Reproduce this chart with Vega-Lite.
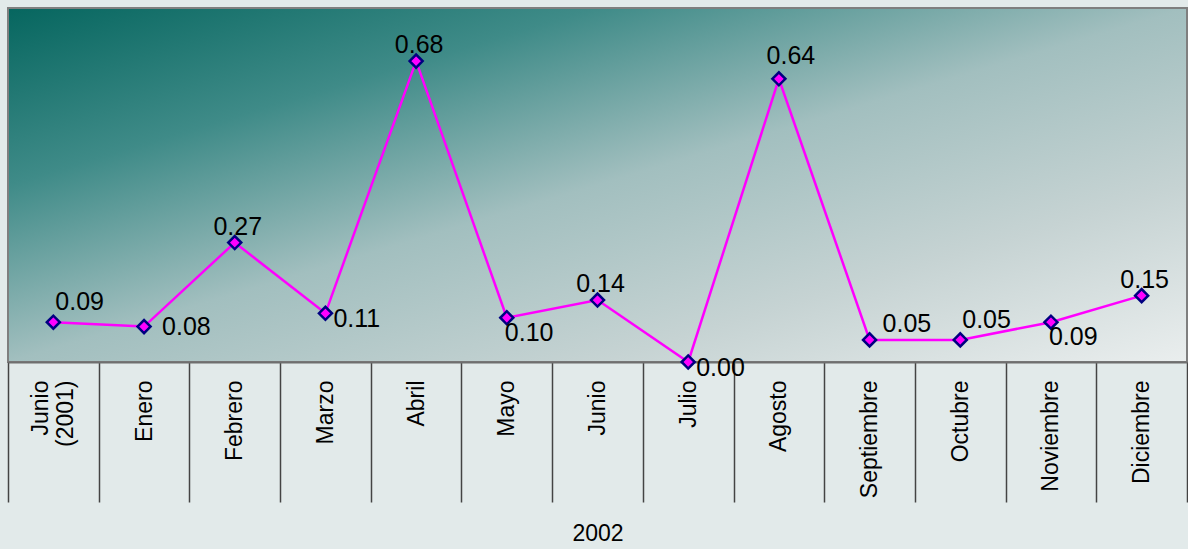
{
  "$schema": "https://vega.github.io/schema/vega-lite/v6.json",
  "width": 1179,
  "height": 354,
  "autosize": "none",
  "padding": {"left": 8, "top": 8, "right": 1, "bottom": 187},
  "background": "#e2eaea",
  "config": {
    "font": "Liberation Sans",
    "view": {
      "stroke": "#7f7f7f",
      "strokeWidth": 2,
      "fill": {
        "gradient": "linear",
        "x1": 0, "y1": 0, "x2": 1, "y2": 1,
        "stops": [
          {"offset": 0, "color": "#06665f"},
          {"offset": 0.25, "color": "#3f8b88"},
          {"offset": 0.5, "color": "#a2bfbf"},
          {"offset": 0.75, "color": "#c6d3d3"},
          {"offset": 1, "color": "#eaeeee"}
        ]
      }
    },
    "text": {"font": "Liberation Sans", "fontSize": 25, "color": "#000000"}
  },
  "data": {
    "values": [
      {"mes": "Junio (2001)", "valor": 0.09},
      {"mes": "Enero", "valor": 0.08},
      {"mes": "Febrero", "valor": 0.27},
      {"mes": "Marzo", "valor": 0.11},
      {"mes": "Abril", "valor": 0.68},
      {"mes": "Mayo", "valor": 0.10},
      {"mes": "Junio", "valor": 0.14},
      {"mes": "Julio", "valor": 0.00},
      {"mes": "Agosto", "valor": 0.64},
      {"mes": "Septiembre", "valor": 0.05},
      {"mes": "Octubre", "valor": 0.05},
      {"mes": "Noviembre", "valor": 0.09},
      {"mes": "Diciembre", "valor": 0.15}
    ]
  },
  "encoding": {
    "x": {
      "field": "mes",
      "type": "nominal",
      "sort": null,
      "scale": {"paddingInner": 0, "paddingOuter": 0},
      "axis": {
        "orient": "bottom",
        "title": "2002",
        "titleFont": "Liberation Sans",
        "titleFontSize": 23,
        "titleFontWeight": "normal",
        "titleColor": "#000000",
        "titlePadding": 20,
        "labelAngle": 270,
        "labelFont": "Liberation Sans",
        "labelFontSize": 23,
        "labelColor": "#000000",
        "labelPadding": -122,
        "labelOffset": {"condition": {"test": "datum.value == 'Junio (2001)'", "value": -13}, "value": 0},
        "labelExpr": "datum.value == 'Junio (2001)' ? ['Junio', '(2001)'] : datum.value",
        "tickBand": "extent",
        "tickSize": 140,
        "tickColor": "#444444",
        "tickWidth": 1.5,
        "domainColor": "#6f6f6f",
        "domainWidth": 2,
        "grid": false
      }
    },
    "y": {
      "field": "valor",
      "type": "quantitative",
      "scale": {"domain": [0, 0.8], "nice": false, "zero": true},
      "axis": null
    }
  },
  "layer": [
    {"mark": {"type": "line", "color": "#ff00ff", "strokeWidth": 2.5}},
    {"mark": {"type": "point", "shape": "diamond", "filled": true, "fill": "#ff00ff", "stroke": "#000080", "strokeWidth": 2.5, "size": 170, "opacity": 1}},
    {
      "transform": [{"filter": {"field": "mes", "oneOf": ["Febrero", "Abril", "Junio", "Diciembre"]}}],
      "mark": {"type": "text", "align": "center", "baseline": "middle", "dx": 3, "dy": -16},
      "encoding": {"text": {"field": "valor", "type": "quantitative", "format": ".2f"}}
    },
    {
      "transform": [{"filter": {"field": "mes", "oneOf": ["Agosto"]}}],
      "mark": {"type": "text", "align": "center", "baseline": "middle", "dx": 12, "dy": -23},
      "encoding": {"text": {"field": "valor", "type": "quantitative", "format": ".2f"}}
    },
    {
      "transform": [{"filter": {"field": "mes", "oneOf": ["Junio (2001)", "Octubre"]}}],
      "mark": {"type": "text", "align": "left", "baseline": "middle", "dx": 2, "dy": -20},
      "encoding": {"text": {"field": "valor", "type": "quantitative", "format": ".2f"}}
    },
    {
      "transform": [{"filter": {"field": "mes", "oneOf": ["Septiembre"]}}],
      "mark": {"type": "text", "align": "left", "baseline": "middle", "dx": 13, "dy": -16},
      "encoding": {"text": {"field": "valor", "type": "quantitative", "format": ".2f"}}
    },
    {
      "transform": [{"filter": {"field": "mes", "oneOf": ["Marzo", "Julio"]}}],
      "mark": {"type": "text", "align": "left", "baseline": "middle", "dx": 8, "dy": 6},
      "encoding": {"text": {"field": "valor", "type": "quantitative", "format": ".2f"}}
    },
    {
      "transform": [{"filter": {"field": "mes", "oneOf": ["Enero"]}}],
      "mark": {"type": "text", "align": "left", "baseline": "middle", "dx": 18, "dy": 0},
      "encoding": {"text": {"field": "valor", "type": "quantitative", "format": ".2f"}}
    },
    {
      "transform": [{"filter": {"field": "mes", "oneOf": ["Mayo", "Noviembre"]}}],
      "mark": {"type": "text", "align": "left", "baseline": "middle", "dx": -2, "dy": 15},
      "encoding": {"text": {"field": "valor", "type": "quantitative", "format": ".2f"}}
    }
  ]
}
